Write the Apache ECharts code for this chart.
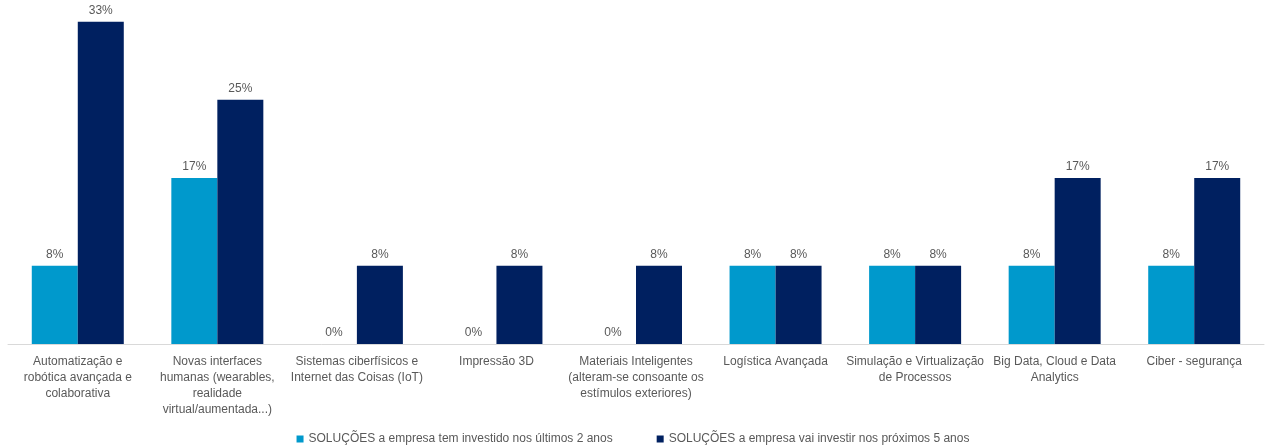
<!DOCTYPE html>
<html>
<head>
<meta charset="utf-8">
<script src="https://cdn.jsdelivr.net/npm/echarts@6/dist/echarts.min.js"></script>
<style>
  html, body { margin: 0; padding: 0; background: #fff; }
  #chart { width: 1266px; height: 445px; }
</style>
</head>
<body>
<div id="chart"></div>
<script>
// Technology areas (axis categories)
const categories = [
  'Automatização e\nrobótica avançada e\ncolaborativa',
  'Novas interfaces\nhumanas (wearables,\nrealidade\nvirtual/aumentada...)',
  'Sistemas ciberfísicos e\nInternet das Coisas (IoT)',
  'Impressão 3D',
  'Materiais Inteligentes\n(alteram-se consoante os\nestímulos exteriores)',
  'Logística Avançada',
  'Simulação e Virtualização\nde Processos',
  'Big Data, Cloud e Data\nAnalytics',
  'Ciber - segurança'
];

const seriesNames = [
  'SOLUÇÕES a empresa tem investido nos últimos 2 anos',
  'SOLUÇÕES a empresa vai investir nos próximos 5 anos'
];

// Percentages per category
const investedLast2Years = [8, 17, 0, 0, 0, 8, 8, 8, 8];
const investNext5Years = [33, 25, 8, 8, 8, 8, 8, 17, 17];

const fontFamily = '"Liberation Sans", Arial, sans-serif';
const textColor = '#595959';

const chart = echarts.init(document.getElementById('chart'));

const labelCfg = {
  show: true,
  position: 'top',
  distance: 5,
  color: textColor,
  fontSize: 12,
  fontFamily: fontFamily,
  formatter: p => p.value + '%'
};

chart.setOption({
  animation: false,
  grid: { left: 8, right: 2, top: 10, bottom: 101, containLabel: false },
  legend: {
    top: 428,
    left: 'center',
    itemWidth: 7,
    itemHeight: 7,
    itemGap: 44,
    icon: 'rect',
    textStyle: { color: textColor, fontSize: 12, fontFamily: fontFamily },
    data: seriesNames
  },
  xAxis: {
    type: 'category',
    data: categories,
    axisLine: { lineStyle: { color: '#D9D9D9', width: 1 } },
    axisTick: { show: false },
    axisLabel: {
      interval: 0,
      margin: 10,
      color: textColor,
      fontSize: 12,
      fontFamily: fontFamily,
      lineHeight: 16
    }
  },
  yAxis: {
    type: 'value',
    min: 0,
    max: 34.2,
    show: false,
    splitLine: { show: false }
  },
  series: [
    {
      name: seriesNames[0],
      type: 'bar',
      data: investedLast2Years,
      barWidth: 46,
      barGap: '0%',
      itemStyle: { color: '#0099CC' },
      label: labelCfg
    },
    {
      name: seriesNames[1],
      type: 'bar',
      data: investNext5Years,
      barWidth: 46,
      barGap: '0%',
      itemStyle: { color: '#002060' },
      label: labelCfg
    }
  ]
});
</script>
</body>
</html>
